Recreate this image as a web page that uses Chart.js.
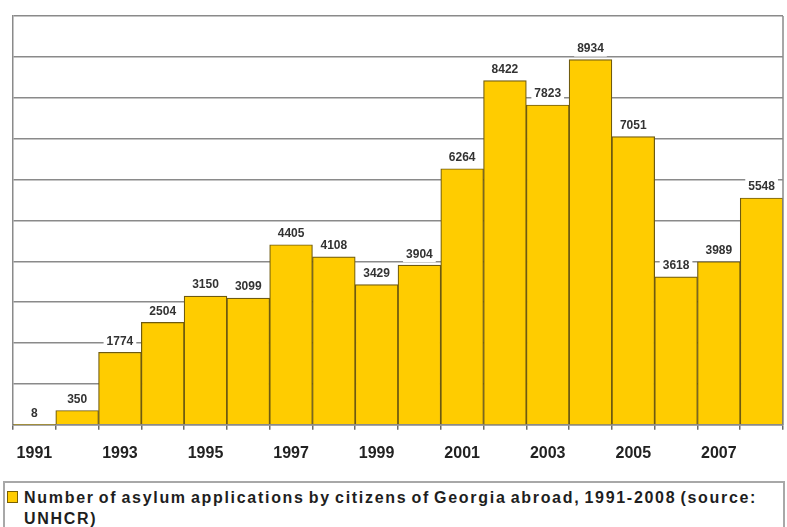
<!DOCTYPE html>
<html>
<head>
<meta charset="utf-8">
<script src="https://cdn.jsdelivr.net/npm/chart.js@4"></script>
<style>
html,body{margin:0;padding:0;background:#fff;overflow:hidden;}
#wrap{position:absolute;left:0;top:0;width:787px;height:488px;}
#legend{position:absolute;left:3px;top:481px;width:782px;height:60px;border:2px solid #a8a8a8;box-sizing:border-box;background:#fff;
 font:bold 16px "Liberation Sans",Arial,sans-serif;color:#1e1e1e;line-height:21px;padding:4px 2px 0 19px;letter-spacing:1.7px;word-spacing:-2px;}
#legend .sw{position:absolute;left:2px;top:8px;width:9px;height:10px;background:#FFCC00;border:1px solid #7a6000;}
</style>
</head>
<body>
<div id="wrap"><canvas id="c"></canvas></div>
<div id="legend"><span class="sw"></span><span id="legtext"></span></div>
<script>
const years = ["1991","1992","1993","1994","1995","1996","1997","1998","1999","2000","2001","2002","2003","2004","2005","2006","2007","2008"];
const applications = [8,350,1774,2504,3150,3099,4405,4108,3429,3904,6264,8422,7823,8934,7051,3618,3989,5548];
const seriesLabel = "Number of asylum applications by citizens of Georgia abroad, 1991-2008 (source: UNHCR)";
const yMax = 10000;
const yStep = 1000;

document.getElementById('legtext').textContent = seriesLabel;

const valueLabels = {
  id: 'valueLabels',
  afterDatasetsDraw(chart) {
    const ctx = chart.ctx;
    const meta = chart.getDatasetMeta(0);
    ctx.save();
    ctx.font = 'bold 12px "Liberation Sans", Arial, sans-serif';
    ctx.textAlign = 'center';
    ctx.textBaseline = 'bottom';
    meta.data.forEach((bar, i) => {
      const txt = String(chart.data.datasets[0].data[i]);
      const w = ctx.measureText(txt).width;
      const y = bar.y - 5;
      ctx.fillStyle = '#fff';
      ctx.fillRect(bar.x - w/2 - 3, y - 14, w + 6, 16);
      ctx.fillStyle = '#333';
      ctx.fillText(txt, bar.x, y);
    });
    ctx.restore();
  }
};
const frame = {
  id: 'frame',
  afterDraw(chart) {
    const a = chart.chartArea, ctx = chart.ctx;
    ctx.save();
    ctx.strokeStyle = '#8a8a8a';
    ctx.lineWidth = 1.5;
    ctx.beginPath();
    ctx.moveTo(a.right, a.top); ctx.lineTo(a.right, a.bottom);
    ctx.stroke();
    ctx.restore();
  }
};

new Chart(document.getElementById('c'), {
  type: 'bar',
  data: {
    labels: years,
    datasets: [{
      label: seriesLabel,
      data: applications,
      backgroundColor: '#FFCC00',
      borderColor: '#6e5a10',
      borderWidth: 1.2,
      categoryPercentage: 1,
      barPercentage: 1
    }]
  },
  options: {
    responsive: true,
    maintainAspectRatio: false,
    animation: false,
    layout: { padding: { left: 13, right: 4, top: 16, bottom: 11 } },
    plugins: { legend: { display: false }, tooltip: { enabled: false } },
    scales: {
      y: {
        min: 0, max: yMax,
        ticks: { display: false, stepSize: yStep },
        grid: { color: '#8a8a8a', lineWidth: 1.5, drawTicks: false },
        border: { display: true, color: '#8a8a8a', width: 1.5 }
      },
      x: {
        grid: { drawOnChartArea: false, drawTicks: true, tickLength: 5, color: '#6a6a6a', lineWidth: 1.5, offset: true },
        border: { display: true, color: '#8a8a8a', width: 1.5 },
        ticks: {
          autoSkip: false, maxRotation: 0, padding: 14,
          color: '#222',
          font: { family: '"Liberation Sans", Arial, sans-serif', size: 16, weight: 'bold' },
          callback: function(v, i) { return i % 2 === 0 ? this.getLabelForValue(v) : ''; }
        }
      }
    }
  },
  plugins: [valueLabels, frame]
});
</script>
</body>
</html>
